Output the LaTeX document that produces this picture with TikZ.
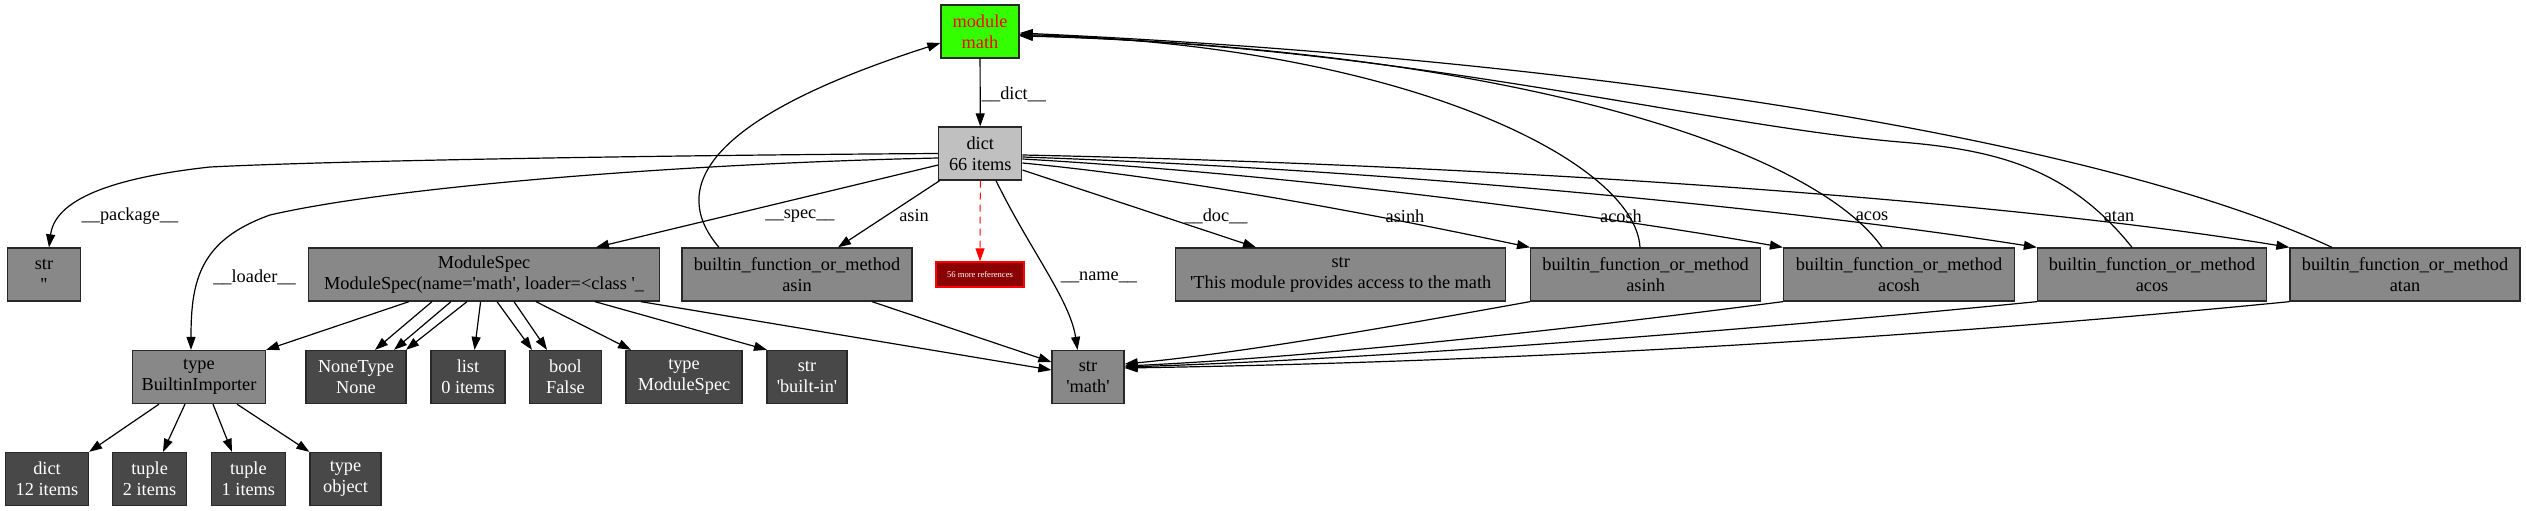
\documentclass[tikz,border=0pt]{standalone}
\usepackage{fontspec}
\setmainfont{Liberation Serif}[Ligatures=TeXOff]
\usetikzlibrary{arrows.meta}
\definecolor{gmod}{RGB}{51,255,0}
\definecolor{gdict}{RGB}{192,192,192}
\definecolor{gmid}{RGB}{136,136,136}
\definecolor{gdark}{RGB}{72,72,72}
\definecolor{gred}{RGB}{139,0,0}
\definecolor{gborder}{RGB}{40,40,40}
\begin{document}
\begin{tikzpicture}[x=1pt,y=-1pt,
  box/.style={draw=gborder, line width=1.3pt, rectangle, inner sep=0pt, align=center,
    font=\fontsize{18.3}{21.3}\selectfont, minimum height=53pt},
  mid/.style={box, fill=gmid},
  dark/.style={box, fill=gdark, text=white},
  e/.style={line width=1.2pt, -{Triangle[length=13pt,width=9pt]}},
  lbl/.style={inner sep=0pt, font=\fontsize{18.3}{21.3}\selectfont},
]
\useasboundingbox[fill=white] (0,0) rectangle (2526,511);

% nodes
\node[box, fill=gmod, text=red, minimum width=78pt] (mod) at (980,31.5) {module\\math};
\node[box, fill=gdict, minimum width=83pt] (d66) at (980.3,153.5) {dict\\66 items};

\node[mid, minimum width=73pt] (sq) at (44,274.5) {str\\''};
\node[mid, minimum width=351pt] (ms) at (484,274.5) {ModuleSpec\\ModuleSpec(name='math', loader=<class '\_};
\node[mid, minimum width=230pt] (fasin) at (797,274.5) {builtin\_function\_or\_method\\asin};
\node[draw=red, fill=gred, text=white, line width=1.3pt, minimum width=88pt, minimum height=25pt,
  inner sep=0pt, font=\fontsize{8.6}{9}\selectfont] (more) at (980,274.5) {56 more references};
\node[mid, minimum width=330pt] (doc) at (1340.7,274.5) {str\\'This module provides access to the math};
\node[mid, minimum width=230pt] (fasinh) at (1645.6,274.5) {builtin\_function\_or\_method\\asinh};
\node[mid, minimum width=231pt] (facosh) at (1899,274.5) {builtin\_function\_or\_method\\acosh};
\node[mid, minimum width=229pt] (facos) at (2152,274.5) {builtin\_function\_or\_method\\acos};
\node[mid, minimum width=230pt] (fatan) at (2405,274.5) {builtin\_function\_or\_method\\atan};

\node[mid, minimum width=133pt] (bi) at (199,377) {type\\BuiltinImporter};
\node[dark, minimum width=100pt] (nt) at (356,377) {NoneType\\None};
\node[dark, minimum width=74pt] (lst) at (468,377) {list\\0 items};
\node[dark, minimum width=72pt] (bl) at (565.5,377) {bool\\False};
\node[dark, minimum width=116pt] (tms) at (684,377) {type\\ModuleSpec};
\node[dark, minimum width=80pt] (sbi) at (807,377) {str\\'built-in'};
\node[mid, minimum width=72pt] (smath) at (1088,377) {str\\'math'};

\node[dark, minimum width=83pt] (d12) at (47,479) {dict\\12 items};
\node[dark, minimum width=74pt] (t2) at (149.6,479) {tuple\\2 items};
\node[dark, minimum width=74pt] (t1) at (248.4,479) {tuple\\1 items};
\node[dark, minimum width=71pt] (tobj) at (345.5,479) {type\\object};

% edge labels
\node[lbl] (l1) at (1014,94) {\_\_dict\_\_};
\node[lbl] (l2) at (130,216) {\_\_package\_\_};
\node[lbl] (l3) at (800,216) {\_\_spec\_\_};
\node[lbl] (l4) at (914,216) {asin};
\node[lbl] (l5) at (254.5,277) {\_\_loader\_\_};
\node[lbl] (l6) at (1099,277) {\_\_name\_\_};
\node[lbl] (l7) at (1216,216) {\_\_doc\_\_};
\node[lbl] (l8) at (1405,216) {asinh};
\node[lbl] (l9) at (1621,216) {acosh};
\node[lbl] (l10) at (1872,216) {acos};
\node[lbl] (l11) at (2119,216) {atan};

% edges from module / dict
\draw[e] (mod) -- (d66);
\draw[e] (d66.west) .. controls (700,155) and (350,160) .. (210,167)
  .. controls (110,178) and (55,200) .. ([xshift=5]sq.north);
\draw[e] ([yshift=-4.5]d66.west) .. controls (700,163) and (400,185) .. (270,215)
  .. controls (200,240) and (191,280) .. ([xshift=-8]bi.north);
\draw[e] ([yshift=-11.5]d66.west) -- ([xshift=112]ms.north);
\draw[e] ([xshift=1.5]d66.south west) -- ([xshift=41]fasin.north);
\draw[e, red, line width=1pt, dash pattern=on 7pt off 5pt] (d66.south) -- (more.north);
\draw[e] ([xshift=15.7]d66.south) .. controls (1030,250) and (1070,300) .. ([xshift=-10.5]smath.north);
\draw[e] ([yshift=-16.5]d66.east) -- ([xshift=-84.7]doc.north);
\draw[e] ([yshift=-9.5]d66.east) .. controls (1200,180) and (1400,220) .. (fasinh.north west);
\draw[e] ([yshift=-5.5]d66.east) .. controls (1300,175) and (1600,215) .. (facosh.north west);
\draw[e] ([yshift=-3.5]d66.east) .. controls (1400,170) and (1800,210) .. (facos.north west);
\draw[e] ([yshift=-1.5]d66.east) .. controls (1500,165) and (2000,200) .. (fatan.north west);

% back edges to module
\draw[e] ([xshift=-78]fasin.north) .. controls (670,190) and (700,120) .. ([yshift=-11.5]mod.west);
\draw[e] ([xshift=-5.6]fasinh.north) .. controls (1635,160) and (1400,45) .. ([yshift=-3]mod.east);
\draw[e] ([xshift=-17]facosh.north) .. controls (1810,145) and (1500,50) .. ([yshift=-4]mod.east);
\draw[e] ([xshift=-20]facos.north) .. controls (2070,170) and (2000,150) .. (1900,142)
  .. controls (1700,125) and (1400,45) .. ([yshift=-4.5]mod.east);
\draw[e] ([xshift=-73]fatan.north) .. controls (2100,140) and (1600,60) .. ([yshift=-1.5]mod.east);

% ModuleSpec children
\draw[e] ([xshift=-75]ms.south) -- (bi.north east);
\draw[e] ([xshift=-52]ms.south) -- ([xshift=19]nt.north);
\draw[e] ([xshift=-33]ms.south) -- ([xshift=38]nt.north);
\draw[e] ([xshift=-17]ms.south) -- ([xshift=50]nt.north);
\draw[e] ([xshift=-3.4]ms.south) -- ([xshift=6.5]lst.north);
\draw[e] ([xshift=13]ms.south) -- ([xshift=-33.5]bl.north);
\draw[e] ([xshift=30]ms.south) -- ([xshift=-18.5]bl.north);
\draw[e] ([xshift=52]ms.south) -- ([xshift=-53]tms.north);
\draw[e] ([xshift=111]ms.south) -- ([xshift=-40]sbi.north);
\draw[e] ([xshift=157]ms.south) -- ([yshift=7]smath.west);
\draw[e] ([xshift=75]fasin.south) -- ([yshift=15]smath.west);

% into str 'math' from the right
\draw[e] (fasinh.south west) .. controls (1400,325) and (1250,352) .. ([yshift=13]smath.east);
\draw[e] (facosh.south west) .. controls (1550,332) and (1300,358) .. ([yshift=11]smath.east);
\draw[e] (facos.south west) .. controls (1700,335) and (1350,360) .. ([yshift=10]smath.east);
\draw[e] (fatan.south west) .. controls (1900,340) and (1500,362) .. ([yshift=9]smath.east);

% BuiltinImporter children
\draw[e] ([xshift=-40]bi.south) -- (d12.north east);
\draw[e] ([xshift=-14]bi.south) -- ([xshift=13.4]t2.north);
\draw[e] ([xshift=14]bi.south) -- ([xshift=-16.4]t1.north);
\draw[e] ([xshift=38]bi.south) -- (tobj.north west);
\end{tikzpicture}
\end{document}
